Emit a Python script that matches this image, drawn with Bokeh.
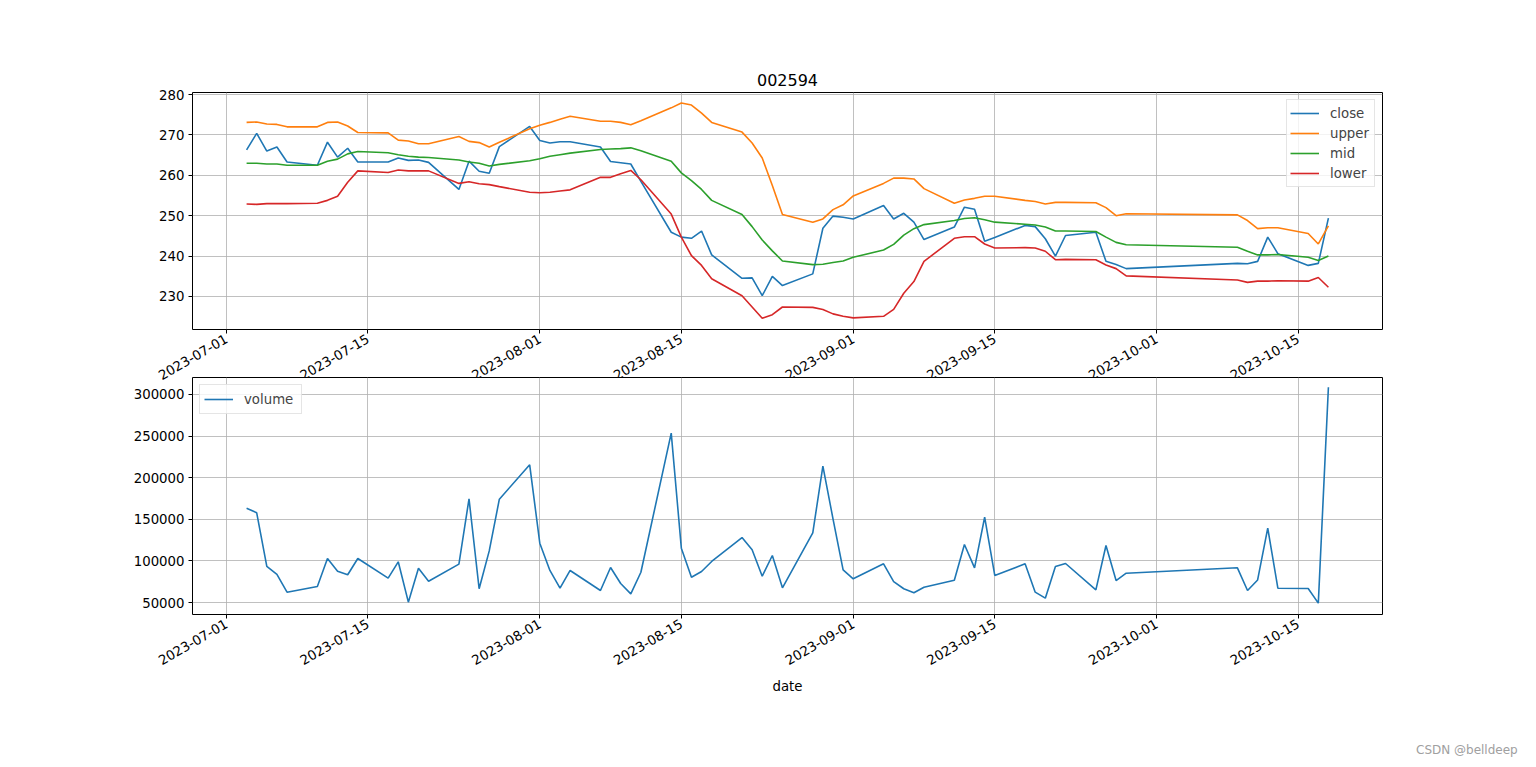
import math
from datetime import datetime

from bokeh.plotting import figure
from bokeh.models import (ColumnDataSource, FixedTicker, DatetimeTickFormatter,
                          NumeralTickFormatter, Range1d, Div)
from bokeh.layouts import column
from bokeh.embed import file_html
from bokeh.resources import INLINE

# ---------------- data ----------------
dates = [
    "2023-07-03", "2023-07-04", "2023-07-05", "2023-07-06", "2023-07-07",
    "2023-07-10", "2023-07-11", "2023-07-12", "2023-07-13", "2023-07-14",
    "2023-07-17", "2023-07-18", "2023-07-19", "2023-07-20", "2023-07-21",
    "2023-07-24", "2023-07-25", "2023-07-26", "2023-07-27", "2023-07-28",
    "2023-07-31",
    "2023-08-01", "2023-08-02", "2023-08-03", "2023-08-04",
    "2023-08-07", "2023-08-08", "2023-08-09", "2023-08-10", "2023-08-11",
    "2023-08-14", "2023-08-15", "2023-08-16", "2023-08-17", "2023-08-18",
    "2023-08-21", "2023-08-22", "2023-08-23", "2023-08-24", "2023-08-25",
    "2023-08-28", "2023-08-29", "2023-08-30", "2023-08-31",
    "2023-09-01",
    "2023-09-04", "2023-09-05", "2023-09-06", "2023-09-07", "2023-09-08",
    "2023-09-11", "2023-09-12", "2023-09-13", "2023-09-14", "2023-09-15",
    "2023-09-18", "2023-09-19", "2023-09-20", "2023-09-21", "2023-09-22",
    "2023-09-25", "2023-09-26", "2023-09-27", "2023-09-28",
    "2023-10-09", "2023-10-10", "2023-10-11", "2023-10-12", "2023-10-13",
    "2023-10-16", "2023-10-17", "2023-10-18",
]

close = [
    266.3, 270.4, 266.0, 267.0, 263.3, 262.5, 268.2, 264.5, 266.7, 263.3,
    263.3, 264.3, 263.7, 263.8, 263.2, 256.5, 263.5, 261.0, 260.5, 267.1,
    272.1,
    268.6, 268.0, 268.3, 268.3, 267.0, 263.4, 263.1, 262.8, 258.5,
    245.9, 244.7, 244.4, 246.2, 240.3, 234.5, 234.6, 230.2, 235.0, 232.7,
    235.6, 246.9, 249.9, 249.6,
    249.2, 252.5, 249.2, 250.6, 248.4, 244.1, 247.2, 252.1, 251.6, 243.7,
    244.6, 247.6, 247.3, 244.3, 240.0, 245.1, 245.9, 238.7, 237.9, 236.9,
    238.2, 238.1, 238.7, 244.7, 240.6, 237.7, 238.2, 249.4,
]

upper = [
    273.1, 273.2, 272.7, 272.6, 272.0, 272.0, 273.1, 273.2, 272.2, 270.6,
    270.5, 268.7, 268.5, 267.8, 267.8, 269.6, 268.4, 268.1, 267.0, 268.2,
    271.5,
    272.4, 273.1, 273.9, 274.6, 273.4, 273.4, 273.1, 272.5, 273.5,
    276.7, 277.9, 277.4, 275.4, 273.1, 270.7, 268.0, 264.3, 257.5, 250.3,
    248.4, 249.2, 251.5, 252.7,
    254.9, 258.0, 259.3, 259.3, 259.1, 256.7, 253.1, 253.9, 254.3, 254.8,
    254.8, 253.8, 253.5, 252.9, 253.3, 253.3, 253.2, 252.0, 250.0, 250.5,
    250.2, 248.8, 246.8, 247.0, 247.0, 245.6, 243.0, 247.5,
]

mid = [
    263.0, 263.0, 262.8, 262.8, 262.5, 262.5, 263.5, 264.0, 265.3, 265.9,
    265.6, 265.1, 264.7, 264.5, 264.4, 263.8, 263.3, 263.0, 262.3, 262.7,
    263.6,
    264.1, 264.7, 265.1, 265.5, 266.4, 266.5, 266.6, 266.8, 266.1,
    263.5, 260.6, 258.7, 256.5, 253.8, 250.3, 247.3, 244.0, 241.3, 238.8,
    237.9, 238.0, 238.4, 238.8,
    239.7, 241.5, 242.9, 245.2, 246.8, 247.8, 248.8, 249.3, 249.5, 249.0,
    248.4, 247.9, 247.7, 247.2, 246.2, 246.2, 246.1, 244.7, 243.4, 242.8,
    242.2, 241.2, 240.3, 240.3, 240.4, 239.7, 238.9, 240.0,
]

lower = [
    252.9, 252.8, 253.0, 253.0, 253.0, 253.1, 253.8, 254.8, 258.3, 261.1,
    260.7, 261.3, 261.1, 261.1, 261.1, 258.0, 258.4, 257.9, 257.7, 257.2,
    255.8,
    255.7, 255.8, 256.1, 256.4, 259.5, 259.5, 260.4, 261.2, 258.9,
    250.4, 244.7, 240.1, 237.7, 234.4, 230.2, 227.4, 224.6, 225.5, 227.4,
    227.3, 226.8, 225.7, 225.1,
    224.7, 225.1, 226.8, 230.8, 233.7, 238.7, 244.4, 244.8, 244.8, 243.0,
    242.0, 242.1, 242.0, 241.2, 239.1, 239.2, 239.1, 237.8, 236.9, 235.1,
    234.1, 233.5, 233.8, 233.8, 233.9, 233.8, 234.7, 232.3,
]

volume = [
    163400, 157800, 93300, 83700, 62400, 69200, 102900, 87700, 83300, 102900,
    79300, 98900, 50400, 91200, 75600, 96100, 174600, 66500, 112000, 174200,
    215500,
    121300, 88500, 67200, 88500, 64400, 92100, 72800, 60400, 86400,
    253500, 115300, 80400, 87300, 99300, 128100, 113300, 81600, 106500, 67700,
    133800, 213800, 150600, 89300,
    78500, 96500, 75200, 66500, 61700, 68400, 76800, 119700, 91700, 152500,
    82500, 96500, 62400, 55200, 93300, 96900, 65200, 118500, 76400, 85200,
    91700, 64400, 77100, 139400, 67200, 66900, 49200, 308800,
]

tick_dates = ["2023-07-01", "2023-07-15", "2023-08-01", "2023-08-15",
              "2023-09-01", "2023-09-15", "2023-10-01", "2023-10-15"]
price_ticks = [230, 240, 250, 260, 270, 280]
volume_ticks = [50000, 100000, 150000, 200000, 250000, 300000]

title_text = "002594"
watermark = "CSDN @belldeep"
price_series = [("close", "#1f77b4"), ("upper", "#ff7f0e"),
                ("mid", "#2ca02c"), ("lower", "#d62728")]

# ---------------- helpers ----------------
FONT = "DejaVu Sans"
x_dt = [datetime.strptime(d, "%Y-%m-%d") for d in dates]
span = x_dt[-1] - x_dt[0]
x_start = x_dt[0] - span * 0.05
x_end = x_dt[-1] + span * 0.05


def ms(d):
    return (d - datetime(1970, 1, 1)).total_seconds() * 1000.0


tick_ms = [ms(datetime.strptime(t, "%Y-%m-%d")) for t in tick_dates]

src = ColumnDataSource(dict(date=x_dt, close=close, upper=upper, mid=mid,
                            lower=lower, volume=volume))

fmt = "%Y-%m-%d"
dt_fmt = DatetimeTickFormatter(days=fmt, months=fmt, years=fmt, hours=fmt,
                               hourmin=fmt, minutes=fmt, minsec=fmt,
                               seconds=fmt, milliseconds=fmt, microseconds=fmt)

FRAME_W, FRAME_H = 1190, 237
LEFT, RIGHT = 192, 146
FIG_W = LEFT + FRAME_W + RIGHT


def style(p):
    p.background_fill_color = "white"
    p.outline_line_color = "black"
    p.outline_line_width = 1
    p.grid.grid_line_color = "#b0b0b0"
    p.grid.grid_line_width = 0.8
    for ax in (p.xaxis[0], p.yaxis[0]):
        ax.axis_line_color = None
        ax.major_tick_line_color = "black"
        ax.major_tick_out = 4
        ax.major_tick_in = 0
        ax.minor_tick_line_color = None
        ax.major_label_text_font = FONT
        ax.major_label_text_font_size = "13.3px"
        ax.major_label_text_color = "black"
        ax.axis_label_text_font = FONT
        ax.axis_label_text_font_size = "13.3px"
        ax.axis_label_text_font_style = "normal"
        ax.axis_label_text_color = "black"
    p.yaxis.major_label_standoff = 4
    p.xaxis.major_label_standoff = 4
    p.xaxis.ticker = FixedTicker(ticks=tick_ms)
    p.xaxis.formatter = dt_fmt
    p.xaxis.major_label_orientation = math.pi / 6


def style_legend(lg, label_w, pad):
    lg.label_text_font = FONT
    lg.label_text_font_size = "13.3px"
    lg.glyph_width = 29
    lg.glyph_height = 20
    lg.label_height = 20
    lg.label_width = label_w
    lg.spacing = 0
    lg.padding = pad
    lg.margin = 7
    lg.label_standoff = 11
    lg.border_line_color = "#cccccc"
    lg.border_line_width = 1
    lg.background_fill_alpha = 0.8


# ---------------- top figure ----------------
top = figure(width=FIG_W, height=92 + FRAME_H + 70, x_axis_type="datetime",
             x_range=Range1d(x_start, x_end), y_range=Range1d(221.83, 280.5),
             output_backend="svg", toolbar_location=None,
             min_border_left=LEFT, min_border_right=RIGHT,
             min_border_top=92, min_border_bottom=70)
top.title.text = title_text
top.title.align = "center"
top.title.text_font = FONT
top.title.text_font_size = "16px"
top.title.text_font_style = "normal"
top.title.text_color = "black"
top.title.standoff = 14
style(top)
top.yaxis.ticker = FixedTicker(ticks=price_ticks)
for name, color in price_series:
    top.line("date", name, source=src, line_color=color, line_width=1.6,
             legend_label=name)
top.legend.location = "top_right"
style_legend(top.legend[0], 41, 3)

# ---------------- bottom figure ----------------
BOT_BORDER = 145
bot = figure(width=FIG_W, height=1 + FRAME_H + BOT_BORDER,
             x_axis_type="datetime",
             x_range=top.x_range, y_range=Range1d(35580, 320430),
             output_backend="svg", toolbar_location=None,
             min_border_left=LEFT, min_border_right=RIGHT,
             min_border_top=1, min_border_bottom=BOT_BORDER)
style(bot)
bot.border_fill_alpha = 0
bot.yaxis.ticker = FixedTicker(ticks=volume_ticks)
bot.yaxis.formatter = NumeralTickFormatter(format="0")
bot.xaxis.axis_label = "date"
bot.xaxis.axis_label_standoff = 6
bot.line("date", "volume", source=src, line_color="#1f77b4", line_width=1.6,
         legend_label="volume")
bot.legend.location = "top_left"
style_legend(bot.legend[0], 53, 4)
bot.margin = (-23, 0, 0, 0)

# watermark in the lower right corner of the page
mark = Div(text=watermark, width=110, height=16, margin=(-17, 0, 0, 1416),
           styles={"font-family": FONT, "font-size": "12px",
                   "color": "#a0a0a0", "line-height": "16px",
                   "white-space": "nowrap"})

layout = column(top, bot, mark, spacing=0)
open("out.html", "w").write(file_html(layout, INLINE))
